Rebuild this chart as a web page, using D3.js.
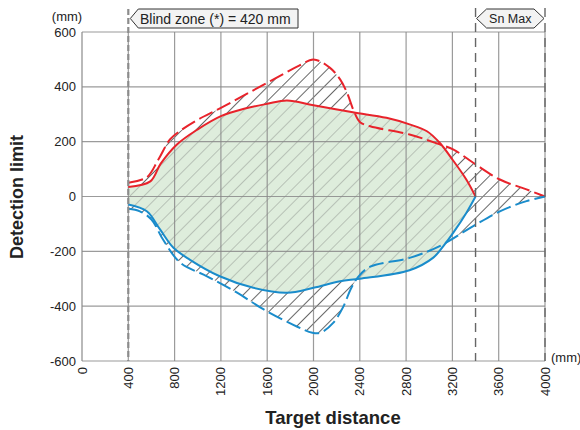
<!DOCTYPE html>
<html>
<head>
<meta charset="utf-8">
<script src="https://cdn.jsdelivr.net/npm/d3@7"></script>
<style>
  body { margin: 0; background: #fff; }
  text { font-family: "Liberation Sans", Arial, sans-serif; fill: #222; }
</style>
</head>
<body>
<svg id="svg" width="580" height="430"></svg>
<script>
// tick labels
var xTicks = [0, 400, 800, 1200, 1600, 2000, 2400, 2800, 3200, 3600, 4000];
var yTicks = [-600, -400, -200, 0, 200, 400, 600];

// detection limit curves [distance mm, limit mm]
var redSolid = [[400,35],[590,55],[680,120],[820,190],[1000,245],[1200,293],[1400,320],[1600,338],[1770,350],
  [2000,333],[2340,307],[2630,287],[2830,263],[2980,238],[3090,196],[3200,135],[3320,62],[3400,0]];
var redDashed = [[400,50],[560,70],[660,135],[760,208],[850,240],[1000,280],[1200,323],[1600,415],[1880,478],
  [2000,500],[2140,470],[2230,427],[2290,378],[2350,310],[2400,272],[2490,256],[2830,226],[3090,190],
  [3210,171],[3380,123],[3610,62],[3840,26],[4000,0]];
var blueSolid = [[400,-29],[560,-54],[674,-120],[790,-187],[930,-230],[1190,-291],[1480,-333],[1770,-351],
  [2000,-333],[2230,-309],[2400,-300],[2830,-269],[3035,-223],[3122,-181],[3208,-132],[3320,-60],[3400,0]];
var blueDashed = [[400,-45],[500,-54],[600,-84],[700,-157],[850,-242],[1080,-291],[1340,-351],[1570,-412],
  [1860,-475],[1990,-497],[2060,-497],[2170,-461],[2260,-400],[2320,-339],[2390,-291],[2490,-256],
  [2830,-224],[3090,-181],[3380,-108],[3610,-54],[3840,-17],[4000,0]];

var blindZone = 400, snMax = 3400;

var svg = d3.select("#svg");
var x = d3.scaleLinear().domain([0, 4000]).range([82, 545]);
var y = d3.scaleLinear().domain([-600, 600]).range([361, 32]);

var line = d3.line()
  .x(function(d) { return x(d[0]); })
  .y(function(d) { return y(d[1]); })
  .curve(d3.curveCatmullRom.alpha(0.5));

function band(top, bottom) {
  return line(top) + line(bottom.slice().reverse()).replace(/^M/, "L") + "Z";
}

// hatch patterns
var defs = svg.append("defs");
function hatch(id, color, w) {
  defs.append("pattern")
    .attr("id", id)
    .attr("patternUnits", "userSpaceOnUse")
    .attr("width", 10).attr("height", 10)
    .attr("patternTransform", "rotate(45)")
    .append("line")
    .attr("x1", 0).attr("y1", 0).attr("x2", 0).attr("y2", 10)
    .attr("stroke", color).attr("stroke-width", w);
}
hatch("hBlack", "#000", 1.2);
hatch("hGray", "#8f968f", 1);

var solidBand = band(redSolid, blueSolid);
var dashedBand = band(redDashed, blueDashed);

// hatched area
svg.append("path").attr("d", dashedBand).attr("fill", "url(#hBlack)");
svg.append("path").attr("d", solidBand).attr("fill", "url(#hBlack)");
// green detection area
svg.append("path").attr("d", solidBand).attr("fill", "#deeddc");
svg.append("path").attr("d", solidBand).attr("fill", "url(#hGray)");

// grid
svg.append("g").selectAll("line").data(xTicks.slice(1)).enter()
  .append("line")
  .attr("x1", function(d) { return x(d); }).attr("x2", function(d) { return x(d); })
  .attr("y1", y(600)).attr("y2", y(-600))
  .attr("stroke", "#8a8a8a").attr("stroke-width", 1.2).attr("opacity", 0.85);
svg.append("g").selectAll("line").data(yTicks).enter()
  .append("line")
  .attr("x1", x(0)).attr("x2", x(4000))
  .attr("y1", function(d) { return y(d); }).attr("y2", function(d) { return y(d); })
  .attr("stroke", "#8a8a8a").attr("stroke-width", 1.2).attr("opacity", 0.85);
svg.append("line")
  .attr("x1", x(0)).attr("x2", x(0)).attr("y1", y(600)).attr("y2", y(-600))
  .attr("stroke", "#8a8a8a").attr("stroke-width", 1.2);

// curves
function curve(data, color, dashed) {
  svg.append("path").attr("d", line(data))
    .attr("fill", "none").attr("stroke", color).attr("stroke-width", 2)
    .attr("stroke-dasharray", dashed ? "15,5" : null);
}
curve(redDashed, "#e8232b", true);
curve(blueDashed, "#1a8ccb", true);
curve(redSolid, "#e8232b", false);
curve(blueSolid, "#1a8ccb", false);

// dashed markers
svg.append("line")
  .attr("x1", x(blindZone)).attr("x2", x(blindZone)).attr("y1", 9).attr("y2", y(-600))
  .attr("stroke", "#8c8c8c").attr("stroke-width", 2.2).attr("stroke-dasharray", "6,3");
[snMax, 4000].forEach(function(v) {
  svg.append("line")
    .attr("x1", x(v)).attr("x2", x(v)).attr("y1", 8).attr("y2", y(-600))
    .attr("stroke", "#666").attr("stroke-width", 1.4).attr("stroke-dasharray", "9,6");
});

// annotation tags
var bx = x(blindZone) + 2;
svg.append("path")
  .attr("d", "M" + bx + ",18.5L" + (bx + 8) + ",9H298V28H" + (bx + 8) + "Z")
  .attr("fill", "#f3f3f3").attr("stroke", "#333").attr("stroke-width", 1);
svg.append("text").attr("x", 140).attr("y", 23.5)
  .style("font-size", "14px").text("Blind zone (*) = 420 mm");

var sx = x(snMax) + 1, ex = x(4000) - 1;
svg.append("path")
  .attr("d", "M" + sx + ",18.5L" + (sx + 10) + ",9H" + (ex - 10) + "L" + ex + ",18.5L" + (ex - 10) + ",28H" + (sx + 10) + "Z")
  .attr("fill", "#f3f3f3").attr("stroke", "#333").attr("stroke-width", 1);
svg.append("text").attr("x", (sx + ex) / 2).attr("y", 23)
  .attr("text-anchor", "middle").style("font-size", "12.5px").text("Sn Max");

// tick labels
svg.append("g").selectAll("text").data(yTicks).enter()
  .append("text")
  .attr("x", 76).attr("y", function(d) { return y(d); }).attr("dy", "0.35em")
  .attr("text-anchor", "end").style("font-size", "13px")
  .text(function(d) { return d; });
svg.append("g").selectAll("text").data(xTicks).enter()
  .append("text")
  .attr("transform", function(d) { return "translate(" + x(d) + ",367) rotate(-90)"; })
  .attr("dy", "0.35em").attr("text-anchor", "end").style("font-size", "13px")
  .text(function(d) { return d; });

svg.append("text").attr("x", 67).attr("y", 21).attr("text-anchor", "middle")
  .style("font-size", "13px").text("(mm)");
svg.append("text").attr("x", 551).attr("y", 362)
  .style("font-size", "13px").text("(mm)");

// axis titles
svg.append("text").attr("x", 333).attr("y", 424).attr("text-anchor", "middle")
  .style("font-size", "18.5px").style("font-weight", "bold").text("Target distance");
svg.append("text").attr("transform", "translate(23,197) rotate(-90)").attr("text-anchor", "middle")
  .style("font-size", "18px").style("font-weight", "bold").text("Detection limit");
</script>
</body>
</html>
